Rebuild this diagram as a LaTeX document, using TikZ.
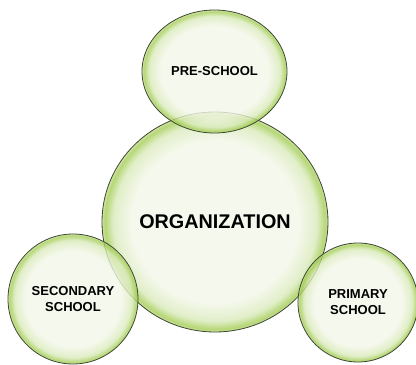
\documentclass[tikz,border=0pt]{standalone}
\usepackage{fontspec}
\setmainfont{Liberation Sans}
\usetikzlibrary{shapes.geometric}
\definecolor{gin}{HTML}{F2F6E7}
\definecolor{gmid}{HTML}{D9EABA}
\definecolor{grim}{HTML}{A2CC52}
\definecolor{grim2}{HTML}{C4DE92}
\definecolor{gline}{HTML}{3C4630}
\pgfdeclareradialshading{glass}{\pgfpoint{0bp}{0bp}}{color(0bp)=(gin); color(18.5bp)=(gin); color(22.5bp)=(gmid); color(24.4bp)=(grim); color(25bp)=(grim2); color(50bp)=(grim2)}
\tikzset{
  bubble/.style={ellipse, inner sep=0pt, shading=glass, fill opacity=0.8, text opacity=1,
    draw=gline, line width=0.8pt, align=center, font=\bfseries\fontsize{13}{16}\selectfont}
}
\begin{document}
\begin{tikzpicture}[x=1pt,y=-1pt]
\useasboundingbox (0,0) rectangle (416,365);
\node[bubble, minimum width=226pt, minimum height=220pt, font=\bfseries\fontsize{19.8}{22}\selectfont] (org) at (215,222) {ORGANIZATION};
\node[bubble, minimum width=145pt, minimum height=123pt] (pre) at (214.5,71.5) {PRE-SCHOOL};
\node[bubble, minimum width=130pt, minimum height=130pt] (sec) at (73,299) {SECONDARY\\SCHOOL};
\node[bubble, minimum width=120pt, minimum height=119pt] (pri) at (358,302.5) {PRIMARY\\SCHOOL};
\end{tikzpicture}
\end{document}
